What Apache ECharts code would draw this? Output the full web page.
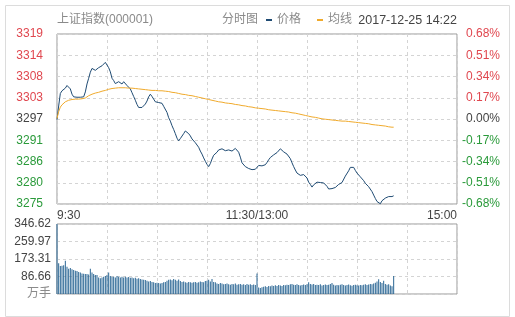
<!DOCTYPE html>
<html><head><meta charset="utf-8">
<script src="https://cdn.jsdelivr.net/npm/echarts@6/dist/echarts.min.js"></script>
<style>html,body{margin:0;padding:0;background:#fff}#c{width:515px;height:317px}</style>
</head><body><div id="c"></div>
<script>
const prevClose = 3297.06;
const titleText = '上证指数(000001)';
const modeText = '分时图';
const dateText = '2017-12-25 14:22';
const seriesNames = ['价格', '均线'];
const xTickIdx = [0, 120, 240];
const xTickText = ['9:30', '11:30/13:00', '15:00'];
const pctMin = -0.68, pctMax = 0.68, pctStep = 0.17;
const volMax = 346.62, volStep = 86.655;
const volUnit = '万手';

const prices = [
3296.9,3300.5,3303.8,3304.5,3304.3,3305.2,3305.9,3306.1,3305.0,3303.6,
3302.9,3302.4,3302.8,3303.0,3302.8,3303.1,3302.9,3304.2,3306.3,3307.8,
3309.4,3310.4,3310.7,3309.9,3310.2,3310.6,3310.9,3311.1,3311.3,3312.0,
3311.6,3310.6,3309.5,3307.8,3307.2,3306.4,3306.6,3306.9,3306.5,3306.3,
3306.9,3307.3,3305.9,3305.6,3305.0,3304.0,3303.0,3302.0,3300.9,3300.1,
3299.6,3300.1,3300.3,3301.0,3301.8,3302.9,3303.6,3303.0,3302.3,3301.6,
3301.2,3301.4,3301.1,3301.2,3300.4,3299.9,3298.8,3297.4,3296.5,3295.3,
3294.3,3293.2,3292.0,3291.3,3291.9,3292.3,3293.2,3293.9,3293.5,3293.2,
3292.6,3291.8,3291.5,3290.8,3290.4,3289.6,3288.6,3287.8,3286.8,3285.9,
3285.1,3284.5,3285.3,3286.5,3287.5,3288.0,3288.3,3288.9,3288.6,3289.2,
3288.8,3288.7,3289.0,3288.9,3288.7,3288.6,3289.0,3289.3,3289.2,3288.3,
3287.0,3285.5,3285.2,3284.5,3284.1,3284.0,3283.9,3283.7,3283.6,3283.8,
3284.2,3284.8,3285.0,3284.7,3284.8,3285.0,3285.6,3286.3,3286.9,3287.3,
3287.6,3287.8,3288.2,3288.6,3289.2,3288.7,3288.4,3288.0,3287.8,3287.6,
3286.6,3285.5,3284.5,3283.6,3282.8,3282.5,3282.2,3282.0,3282.4,3282.6,
3281.5,3280.4,3279.8,3279.1,3279.7,3280.1,3280.4,3280.2,3280.3,3280.0,
3280.2,3280.2,3279.3,3278.6,3278.3,3278.7,3278.9,3279.0,3279.4,3279.8,
3279.9,3280.3,3280.5,3282.0,3282.3,3283.4,3284.3,3284.5,3284.3,3283.5,
3282.8,3282.4,3281.8,3281.4,3280.8,3280.1,3279.6,3279.2,3278.8,3277.9,
3277.0,3276.1,3275.3,3274.9,3274.7,3275.5,3276.0,3276.2,3276.0,3276.6,
3276.8,3276.6,3276.8
];

const avgPrices = [
3297.2,3299.0,3300.2,3300.8,3301.3,3301.6,3301.8,3302.0,3302.1,3302.2,
3302.2,3302.3,3302.3,3302.3,3302.3,3302.4,3302.4,3302.6,3302.9,3303.2,
3303.4,3303.6,3303.8,3303.9,3304.0,3304.1,3304.3,3304.4,3304.5,3304.6,
3304.8,3304.9,3305.0,3305.1,3305.2,3305.2,3305.2,3305.3,3305.3,3305.3,
3305.3,3305.3,3305.2,3305.2,3305.2,3305.2,3305.1,3305.1,3305.0,3305.0,
3304.9,3304.9,3304.8,3304.8,3304.7,3304.7,3304.7,3304.6,3304.6,3304.6,
3304.6,3304.5,3304.5,3304.5,3304.5,3304.4,3304.3,3304.3,3304.2,3304.1,
3304.0,3304.0,3303.9,3303.8,3303.7,3303.6,3303.5,3303.5,3303.4,3303.3,
3303.2,3303.2,3303.1,3303.0,3302.9,3302.8,3302.7,3302.6,3302.5,3302.4,
3302.3,3302.2,3302.1,3302.0,3301.9,3301.8,3301.7,3301.6,3301.5,3301.5,
3301.4,3301.3,3301.3,3301.2,3301.1,3301.1,3301.0,3300.9,3300.9,3300.8,
3300.7,3300.6,3300.6,3300.5,3300.4,3300.3,3300.3,3300.2,3300.1,3300.0,
3300.0,3299.9,3299.8,3299.8,3299.7,3299.7,3299.6,3299.5,3299.4,3299.4,
3299.4,3299.3,3299.3,3299.2,3299.2,3299.1,3299.1,3299.0,3299.0,3298.9,
3298.8,3298.7,3298.6,3298.6,3298.5,3298.4,3298.3,3298.2,3298.1,3298.0,
3297.9,3297.8,3297.7,3297.6,3297.6,3297.5,3297.4,3297.3,3297.2,3297.1,
3297.1,3297.0,3296.9,3296.9,3296.8,3296.8,3296.7,3296.7,3296.6,3296.6,
3296.6,3296.5,3296.5,3296.5,3296.4,3296.4,3296.4,3296.3,3296.3,3296.2,
3296.2,3296.1,3296.1,3296.0,3296.0,3295.9,3295.8,3295.8,3295.7,3295.6,
3295.6,3295.5,3295.5,3295.4,3295.4,3295.3,3295.2,3295.2,3295.1,3295.0,
3295.0,3294.9,3294.9
];

const volumes = [
346.62,152,139,140,142,165,135,125,129,122,
119,115,114,109,106,102,100,99,99,97,
125,106,99,94,94,82,78,82,86,89,
94,107,89,86,86,82,89,86,82,86,
82,86,82,84,80,82,78,80,76,78,
74,72,70,69,66,62,64,60,58,55,
56,54,52,55,58,60,66,70,72,68,
74,70,66,72,64,60,62,58,56,60,
58,56,58,60,56,58,62,60,58,64,
66,70,62,74,60,58,52,50,54,52,
48,50,52,48,46,50,48,52,46,48,
50,46,48,44,50,46,48,45,47,44,
102,32,30,33,36,38,35,40,38,42,
40,43,40,44,42,40,45,43,46,44,
48,50,46,44,48,45,42,44,47,45,
48,58,50,47,49,45,46,44,48,42,
45,47,44,46,49,54,46,42,45,43,
46,48,44,42,45,47,43,41,44,46,
43,42,45,43,46,48,44,47,50,48,
52,56,62,73,60,55,66,50,46,48,
42,38,89
];

// minute categories: 9:30..11:30, 13:01..15:00
const times = [];
function pad(n){return (n<10?'0':'')+n;}
for (let m = 9*60+30; m <= 11*60+30; m++) times.push(Math.floor(m/60)+':'+pad(m%60));
for (let m = 13*60+1; m <= 15*60; m++) times.push(Math.floor(m/60)+':'+pad(m%60));

const toPct = p => (p - prevClose) / prevClose * 100;
const FONT = '"Liberation Sans", Arial, "Noto Sans CJK SC", sans-serif';
const RED = '#e0474f', GREEN = '#2a9a3a', NEUTRAL = '#444';
const pctColor = v => { v = Number(v); return v > 0.001 ? RED : (v < -0.001 ? GREEN : NEUTRAL); };

const chart = echarts.init(document.getElementById('c'), null, {renderer: 'canvas'});
const dashed = {show: true, lineStyle: {color: '#d4d4d4', type: [3, 3], width: 1}};
const everyHalfHour = (idx) => idx % 30 === 0;

chart.setOption({
  animation: false,
  textStyle: {fontFamily: FONT},
  graphic: [
    {type: 'rect', left: 3, top: 3, shape: {width: 504, height: 311}, style: {fill: 'none', stroke: '#dcdcdc', lineWidth: 1}, silent: true}
  ],
  title: [
    {text: titleText, left: 57, top: 14, padding: 0, textStyle: {fontSize: 12, fontWeight: 'normal', color: '#8a8a8a', fontFamily: FONT}},
    {text: modeText, left: 222, top: 14, padding: 0, textStyle: {fontSize: 12, fontWeight: 'normal', color: '#8a8a8a', fontFamily: FONT}},
    {text: dateText, right: 58, top: 14, padding: 0, textStyle: {fontSize: 12.5, fontWeight: 'normal', color: '#444', fontFamily: FONT}}
  ],
  legend: {
    data: seriesNames, left: 266, top: 14, padding: 0, icon: 'rect', itemWidth: 6, itemHeight: 2, itemGap: 16,
    textStyle: {fontSize: 12, color: '#8a8a8a', fontFamily: FONT}
  },
  grid: [
    {left: 57, top: 34, width: 400, height: 170, show: true, borderColor: '#999', borderWidth: 1, containLabel: false},
    {left: 57, top: 224, width: 400, height: 70, show: true, borderColor: '#999', borderWidth: 1, containLabel: false}
  ],
  xAxis: [
    {
      type: 'category', gridIndex: 0, data: times, boundaryGap: false,
      axisLine: {show: false}, axisTick: {show: false},
      axisLabel: {
        interval: (idx) => xTickIdx.indexOf(idx) >= 0,
        formatter: (v, idx) => { const k = xTickIdx.indexOf(idx); return k >= 0 ? xTickText[k] : ''; },
        color: '#444', fontSize: 12, margin: 6,
        alignMinLabel: 'left', alignMaxLabel: 'right', showMinLabel: true, showMaxLabel: true
      },
      splitLine: Object.assign({interval: everyHalfHour}, dashed)
    },
    {
      type: 'category', gridIndex: 1, data: times, boundaryGap: false,
      axisLine: {show: false}, axisTick: {show: false}, axisLabel: {show: false},
      splitLine: Object.assign({interval: everyHalfHour}, dashed)
    }
  ],
  yAxis: [
    {
      type: 'value', gridIndex: 0, min: pctMin, max: pctMax, interval: pctStep, position: 'left',
      axisLine: {show: false}, axisTick: {show: false},
      axisLabel: {
        fontSize: 12, margin: 14,
        formatter: v => String(Math.round(prevClose * (1 + v / 100))),
        color: v => pctColor(v)
      },
      splitLine: dashed
    },
    {
      type: 'value', gridIndex: 0, min: pctMin, max: pctMax, interval: pctStep, position: 'right',
      axisLine: {show: false}, axisTick: {show: false},
      axisLabel: {
        fontSize: 12, margin: 43, align: 'right',
        formatter: v => (Math.abs(v) < 1e-6 ? 0 : v).toFixed(2) + '%',
        color: v => pctColor(v)
      },
      splitLine: {show: false}
    },
    {
      type: 'value', gridIndex: 1, min: 0, max: volMax, interval: volStep,
      axisLine: {show: false}, axisTick: {show: false},
      axisLabel: {
        fontSize: 12, margin: 6,
        formatter: v => v === 0 ? volUnit : (v + 1e-9).toFixed(2),
        color: v => Number(v) === 0 ? '#8a8a8a' : '#444'
      },
      splitLine: dashed
    }
  ],
  series: [
    {
      name: seriesNames[0], type: 'line', xAxisIndex: 0, yAxisIndex: 0,
      data: prices.map(toPct), showSymbol: false, smooth: false,
      lineStyle: {color: '#1f4b73', width: 1}, itemStyle: {color: '#1f4b73'}
    },
    {
      name: seriesNames[1], type: 'line', xAxisIndex: 0, yAxisIndex: 0,
      data: avgPrices.map(toPct), showSymbol: false, smooth: false,
      lineStyle: {color: '#f0aa2c', width: 1}, itemStyle: {color: '#f0aa2c'}
    },
    {
      name: 'volume', type: 'bar', xAxisIndex: 1, yAxisIndex: 2,
      data: volumes, barWidth: 1, itemStyle: {color: '#2a6694'}
    }
  ]
});
</script>
</body></html>
